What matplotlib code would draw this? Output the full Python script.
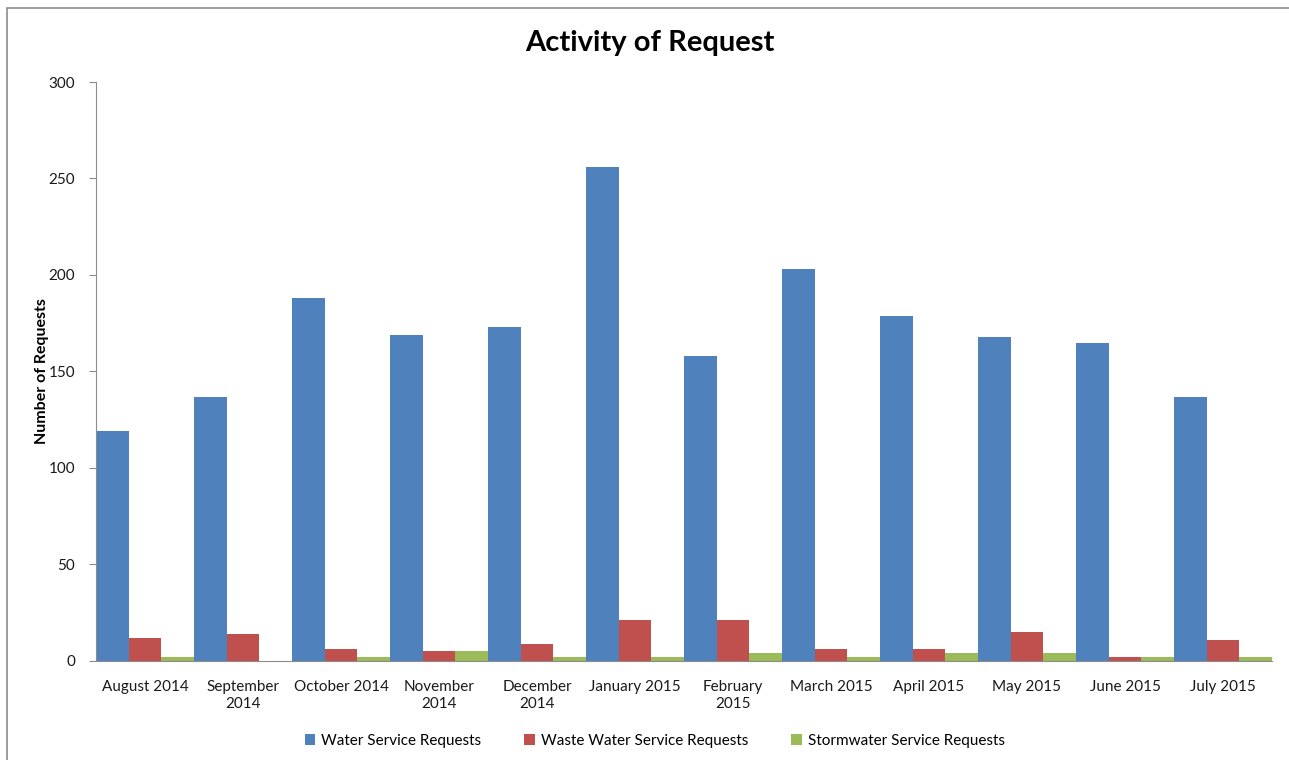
import numpy as np
import matplotlib.pyplot as plt
from matplotlib.patches import Rectangle

plt.rcParams['font.family'] = ['Lato', 'DejaVu Sans']

months = ['August 2014', 'September\n2014', 'October 2014', 'November\n2014',
          'December\n2014', 'January 2015', 'February\n2015', 'March 2015',
          'April 2015', 'May 2015', 'June 2015', 'July 2015']
water = [119, 137, 188, 169, 173, 256, 158, 203, 179, 168, 165, 137]
waste_water = [12, 14, 6, 5, 9, 21, 21, 6, 6, 15, 2, 11]
stormwater = [2, 0, 2, 5, 2, 2, 4, 2, 4, 4, 2, 2]

fig = plt.figure(figsize=(12.89, 7.6), dpi=100)
ax = fig.add_axes([0.0745, 0.1303, 0.9123, 0.7618])

# outer chart border
fig.patches.append(Rectangle((0.0055, -0.05), 1.1, 1.039, transform=fig.transFigure,
                             fill=False, edgecolor='#8c8c8c', linewidth=1.2))

x = np.arange(len(months))
w = 1 / 3
ax.bar(x - w, water, w, color='#4f81bd', label='Water Service Requests')
ax.bar(x, waste_water, w, color='#c0504d', label='Waste Water Service Requests')
ax.bar(x + w, stormwater, w, color='#9bbb59', label='Stormwater Service Requests')

ax.set_xlim(-0.5, len(months) - 0.5)
ax.set_ylim(0, 300)
ax.set_yticks(range(0, 301, 50))
ax.set_xticks(x)
ax.set_xticklabels(months, fontsize=11, color='#1a1a1a')
ax.tick_params(axis='x', length=0, pad=14)
ax.tick_params(axis='y', labelsize=11, length=5, color='#8c8c8c', labelcolor='#1a1a1a', pad=10)

for s in ['top', 'right']:
    ax.spines[s].set_visible(False)
ax.spines['left'].set_color('#8c8c8c')
ax.spines['bottom'].set_color('#8c8c8c')

ax.set_ylabel('Number of Requests', fontsize=11.5, fontweight='bold')
ax.yaxis.set_label_coords(-0.04, 0.5)
fig.text(0.504, 0.944, 'Activity of Request', ha='center', va='center',
         fontsize=21, fontweight='bold')

fig.legend(loc='center', bbox_to_anchor=(0.508, 0.025), ncol=3, frameon=False,
           fontsize=11, handlelength=0.7, handleheight=0.7, columnspacing=2.8,
           handletextpad=0.4)

fig.savefig('out.png', dpi=100)
